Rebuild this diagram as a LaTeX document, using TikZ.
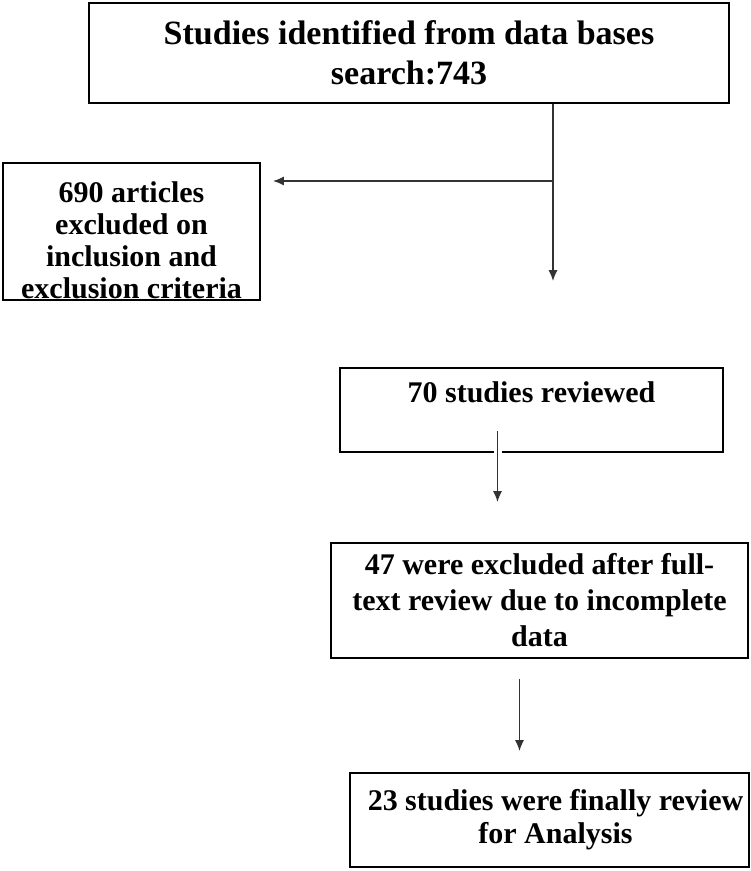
\documentclass[tikz,border=0pt]{standalone}
\usepackage{fontspec}
\setmainfont{Liberation Serif}
\usetikzlibrary{arrows.meta,calc}

\tikzset{
  box/.style={draw,line width=0.9pt,align=center,inner sep=3pt,
    font=\bfseries\fontsize{15}{16.5}\selectfont},
  flow/.style={-{Latex[length=5.5pt,width=4.5pt]},line width=0.7pt,black!80}
}

\begin{document}
\begin{tikzpicture}[x=0.5pt,y=-0.5pt]
  % frame with the reference's margins
  \useasboundingbox (0,0) rectangle (750,871);

  \node[box,minimum width=320pt,minimum height=50pt,
        font=\bfseries\fontsize{17}{20}\selectfont] (search) at (409,53)
    {Studies identified from data bases\\search:743};
  \node[box,minimum width=128.5pt,inner ysep=0.75pt,
        font=\bfseries\fontsize{15}{16}\selectfont] (excluded) at (131.5,231.5)
    {\rule{0pt}{19pt}690 articles\\excluded on\\inclusion and\\exclusion criteria};
  \node[box,minimum width=191.5pt,text height=14pt,text depth=22pt] (reviewed) at (531.5,410)
    {70 studies reviewed};
  \node[box,minimum width=208.5pt,minimum height=57.5pt,
        font=\bfseries\fontsize{15}{18}\selectfont] (fulltext) at (539.5,600.5)
    {47 were excluded after full-\\text review due to incomplete\\data};
  \node[box,minimum width=197.5pt,minimum height=47pt] (final) at (549.5,820)
    {\hspace*{6pt}23 studies were finally review\\\hspace*{6pt}for Analysis};

  % main line with the side branch
  \coordinate (split) at (553,181);
  \draw[flow,shorten >=43pt] (search.south -| split) -- (split |- reviewed.north);
  \draw[flow,shorten >=6pt] (split) -- (split -| excluded.east);

  \draw[flow,shorten <=-11pt,shorten >=20pt,preaction={draw=white,line width=4pt,-}]
    ([xshift=-17pt]reviewed.south) -- ([xshift=-17pt]reviewed.south |- fulltext.north);
  \draw[flow,shorten <=10pt,shorten >=10.5pt]
    ([xshift=-10pt]fulltext.south) -- ([xshift=-10pt]fulltext.south |- final.north);
\end{tikzpicture}
\end{document}
